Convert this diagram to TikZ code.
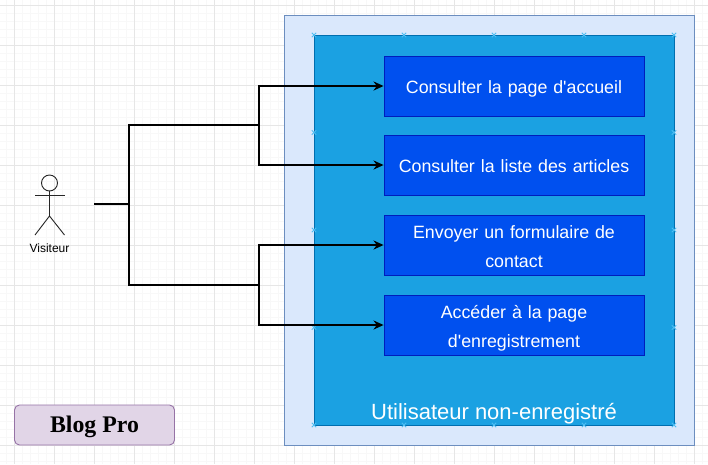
\documentclass[tikz,border=0pt]{standalone}
\usepackage{fontspec}
\setmainfont{Liberation Sans}
\newfontfamily\plainsans{Liberation Sans}
\newfontfamily\serifbold{Liberation Serif}
\usetikzlibrary{arrows.meta}
\definecolor{gridmajor}{HTML}{E6E6E6}
\definecolor{gridminor}{HTML}{F8F8F8}
\definecolor{outerfill}{HTML}{DAE8FC}
\definecolor{outerline}{HTML}{6C8EBF}
\definecolor{innerfill}{HTML}{1BA1E2}
\definecolor{innerline}{HTML}{006EAF}
\definecolor{boxfill}{HTML}{0050EF}
\definecolor{boxline}{HTML}{001DBC}
\definecolor{titlefill}{HTML}{E1D5E7}
\definecolor{titleline}{HTML}{9673A6}
\definecolor{markcol}{HTML}{4DBDF2}
\newcommand{\lnstrut}{\rule[-5pt]{0pt}{25pt}}
\tikzset{
  x=1pt,y=-1pt,
  usecase/.style={draw=boxline,fill=boxfill,line width=0.9pt,minimum width=260pt,minimum height=60pt,
    inner sep=0pt,text=white,font=\plainsans\fontsize{17.8pt}{29pt}\selectfont,align=center,text width=250pt},
  wire/.style={draw=black,line width=2pt},
  arrowwire/.style={wire,-{Stealth[length=10pt,width=9pt]}},
  pin/.style={draw=markcol,line width=0.9pt},
  stick/.style={draw=black!85,line width=0.9pt},
}
\newcommand{\pinmark}[2]{\draw[pin] (#1-2.2,#2-2.2) -- (#1+2.2,#2+2.2) (#1-2.2,#2+2.2) -- (#1+2.2,#2-2.2);}
\begin{document}
\begin{tikzpicture}
\useasboundingbox (0,0) rectangle (708,464);
\fill[white] (0,0) rectangle (708,464);
% grid
\foreach \i in {0,...,88} {\draw[gridminor,line width=0.8pt] (6+8*\i,0) -- (6+8*\i,464);}
\foreach \i in {0,...,57} {\draw[gridminor,line width=0.8pt] (0,5+8*\i) -- (708,5+8*\i);}
\foreach \i in {0,...,17} {\draw[gridmajor,line width=0.9pt] (14+40*\i,0) -- (14+40*\i,464);}
\foreach \i in {0,...,11} {\draw[gridmajor,line width=0.9pt] (0,5+40*\i) -- (708,5+40*\i);}
% containers
\node[draw=outerline,fill=outerfill,line width=0.9pt,minimum width=410pt,minimum height=430pt,inner sep=0pt] (outer) at (489,230) {};
\node[draw=innerline,fill=innerfill,line width=0.9pt,minimum width=360pt,minimum height=390pt,inner sep=0pt] (inner) at (494,230) {};
\node[text=white,font=\fontsize{22pt}{24pt}\selectfont,anchor=base] (innerlabel) at (494,419) {Utilisateur non-enregistré};
% connection marks
\foreach \px in {314,404,494,584,674} {\pinmark{\px}{35}\pinmark{\px}{425}}
\foreach \py in {132.5,230,327.5} {\pinmark{314}{\py}\pinmark{674}{\py}}
% use cases
\node[usecase] (uc1) at (514,86) {\lnstrut Consulter la page d'accueil};
\node[usecase] (uc2) at (514,165) {\lnstrut Consulter la liste des articles};
\node[usecase] (uc3) at (514,245) {\lnstrut Envoyer un formulaire de\\\lnstrut contact};
\node[usecase] (uc4) at (514,325) {\lnstrut Accéder à la page\\\lnstrut d'enregistrement};
% actor
\node[draw=black!85,line width=0.9pt,circle,minimum size=16pt,inner sep=0pt] (head) at (49.5,183) {};
\coordinate (hip) at (49.5,216);
\coordinate (armL) at (35,195);
\coordinate (armR) at (64.5,195);
\coordinate (footL) at (35,235);
\coordinate (footR) at (64.5,235);
\draw[stick] (head.south) -- (hip);
\draw[stick] (armL) -- (armR);
\draw[stick] (footL) -- (hip) -- (footR);
\node[font=\fontsize{12pt}{14pt}\selectfont,text=black] (actorlabel) at (49.5,248.5) {Visiteur};
% connectors
\coordinate (start) at (94,204);
\coordinate (trunk) at (129,204);
\coordinate (upj) at (259,125);
\coordinate (lowj) at (259,285);
\draw[wire,line join=miter] (start) -- (trunk);
\draw[wire,line join=miter] (upj) -- (trunk |- upj) -- (trunk |- lowj) -- (lowj);
\draw[arrowwire] (upj) |- (uc1.west);
\draw[arrowwire] (upj) |- (uc2.west);
\draw[arrowwire] (lowj) |- (uc3.west);
\draw[arrowwire] (lowj) |- (uc4.west);
% title
\node[draw=titleline,fill=titlefill,line width=0.9pt,rounded corners=5pt,minimum width=160pt,minimum height=40pt,inner sep=0pt,
  font=\serifbold\bfseries\fontsize{23.8pt}{26pt}\selectfont] (title) at (94.5,425) {\rule[-5pt]{0pt}{25pt}Blog Pro};
\end{tikzpicture}
\end{document}
